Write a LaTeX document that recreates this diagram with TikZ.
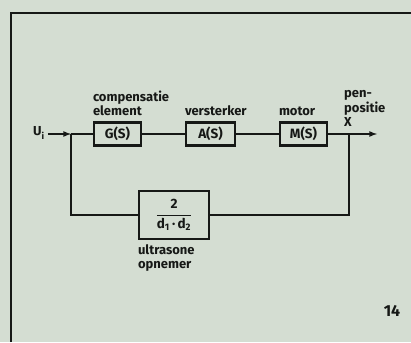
\documentclass[tikz,border=0pt]{standalone}
\usepackage{amsmath}
\usepackage{fontspec}
\setsansfont{Fira Sans}
\usepackage{tikz}
\usetikzlibrary{arrows,positioning,calc}

\definecolor{paper}{RGB}{212,221,210}
\definecolor{ink}{RGB}{22,24,22}

\begin{document}
\begin{tikzpicture}[x=1pt, y=1pt,
    block/.style={draw=ink, line width=2.4pt, rectangle, minimum height=23pt, inner sep=1pt, font=\sffamily\bfseries\fontsize{13.5}{14}\selectfont, text=ink},
    lbl/.style={inner sep=0pt, align=left, text=ink, font=\sffamily\bfseries\fontsize{13}{14.5}\selectfont},
    wire/.style={draw=ink, line width=1.6pt}]
    % Paper and frame
    \fill[paper] (0,0) rectangle (411,342);
    \useasboundingbox (0,0) rectangle (411,342);
    \draw[ink, line width=2.2pt] (11,0) -- (11,329) -- (411,329);

    % Blocks
    \node[block, minimum width=47pt] (G) at (117.5,208) {G(S)};
    \node[block, minimum width=49pt] (A) at (210.5,208) {A(S)};
    \node[block, minimum width=47pt] (M) at (303.5,208) {M(S)};
    \node[block, minimum width=70pt, minimum height=48pt] (fb) at (174,127) {$\dfrac{\mbox{2}}{\mbox{d\textsubscript{1}\,·\,d\textsubscript{2}}}$};

    % Branch points and ends
    \node[lbl] (ui) at (39,209) {U\textsubscript{i}};
    \coordinate (inj) at (71,208);
    \coordinate (outj) at (349,208);
    \coordinate (xend) at (377,208);

    % Labels
    \node[lbl, anchor=south west] (lG) at ($(G.north west)+(0,5)$) {compensatie\\element};
    \node[lbl, anchor=south west] (lA) at ($(A.north west)+(0,5)$) {versterker};
    \node[lbl, anchor=south west] (lM) at ($(M.north west)+(0,5)$) {motor};
    \node[lbl, anchor=south west] (lX) at (344,215) {pen-\\positie\\X};
    \node[lbl, anchor=north west] (lfb) at ($(fb.south west)+(0,-4)$) {ultrasone\\opnemer};
    \node[lbl, font=\sffamily\bfseries\fontsize{16}{16}\selectfont] (nr) at (392,31) {14};

    % Forward path
    \draw[wire, -latex] (ui.east) ++(3,-1) -- (inj);
    \draw[wire] (inj) -- (G.west);
    \draw[wire] (G.east) -- (A.west);
    \draw[wire] (A.east) -- (M.west);
    \draw[wire, -latex] (M.east) -- (xend);

    % Feedback path
    \draw[wire] (outj) |- (fb.east);
    \draw[wire] (fb.west) -| (inj);
\end{tikzpicture}
\end{document}
